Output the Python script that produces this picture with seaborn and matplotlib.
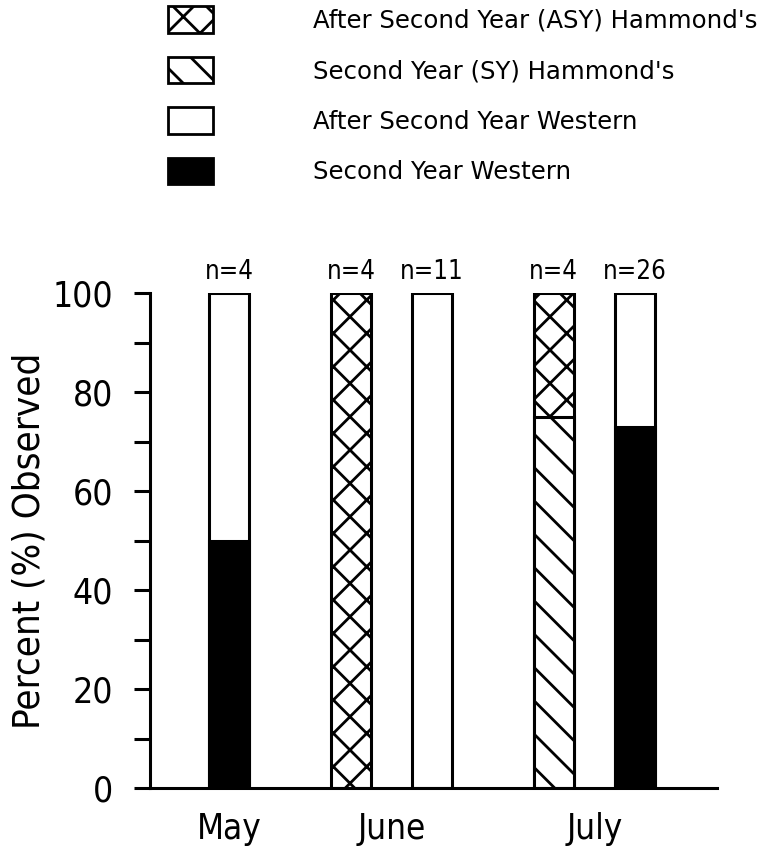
import pandas as pd
import matplotlib
matplotlib.use("Agg")
import matplotlib.pyplot as plt
from matplotlib import font_manager as fm
from matplotlib.patches import Patch
from matplotlib.ticker import MultipleLocator
import seaborn as sns

# observed birds, one bar per month and species
bar_month = ['May', 'June', 'June', 'July', 'July']
bar_species = ['Western', "Hammond's", 'Western', "Hammond's", 'Western']
sy_pct = [50, 0, 0, 75, 73]        # Second Year
asy_pct = [50, 100, 100, 25, 27]   # After Second Year
n_obs = [4, 4, 11, 4, 26]
months = ['May', 'June', 'July']
y_ticks = [0, 20, 40, 60, 80, 100]

legend_labels = ["After Second Year (ASY) Hammond's",
                 "Second Year (SY) Hammond's",
                 "After Second Year Western",
                 "Second Year Western"]

# layout: month centres on the x axis, species offsets inside a month
month_center = {'May': 0.0, 'June': 2.0, 'July': 4.5}
species_offset = {"Hammond's": -0.5, 'Western': 0.5}


def narrow_font():
    """Look for an installed condensed sans face, else None"""
    prefs = ['LiberationSansNarrow-Regular', 'DejaVuSansCondensed.',
             'RobotoCondensed-Regular', 'NotoSans-Condensed.',
             'NotoSans-SemiCondensed.', 'OpenSans-CondensedRegular',
             'OpenSans_Condensed-Regular']
    files = [f.fname for f in fm.fontManager.ttflist]
    for p in prefs:
        for fn in files:
            if p in fn.split('/')[-1]:
                return fn
    for f in fm.fontManager.ttflist:
        low = f.fname.lower()
        if ('condensed' in low or 'narrow' in low) and f.style == 'normal' \
                and f.weight in (400, 'normal', 'regular') \
                and 'extra' not in low and 'ultra' not in low:
            return f.fname
    return None


NARROW_FILE = narrow_font()


def nfont(size):
    if NARROW_FILE:
        return fm.FontProperties(fname=NARROW_FILE, size=size)
    return fm.FontProperties(family='DejaVu Sans', size=size * 0.85)


sns.set_theme(style='ticks', rc={
    'axes.edgecolor': 'black', 'text.color': 'black',
    'xtick.color': 'black', 'ytick.color': 'black',
    'axes.labelcolor': 'black', 'hatch.linewidth': 2.0,
    'hatch.color': 'black',
})
plt.rcParams['font.family'] = ['DejaVu Sans']

# bar positions
counts = pd.Series(bar_month).value_counts()
bar_x = []
for m, s in zip(bar_month, bar_species):
    off = species_offset[s] if counts[m] > 1 else 0.0
    bar_x.append(month_center[m] + off)

rows = []
for x, s, sy, asy in zip(bar_x, bar_species, sy_pct, asy_pct):
    if asy > 0:
        rows.append({'x': x, 'layer': f'ASY {s}', 'top': sy + asy})
    if sy > 0:
        rows.append({'x': x, 'layer': f'SY {s}', 'top': sy})
df = pd.DataFrame(rows)

hue_order = ["ASY Hammond's", 'ASY Western', "SY Hammond's", 'SY Western']
palette = {"ASY Hammond's": 'white', 'ASY Western': 'white',
           "SY Hammond's": 'white', 'SY Western': 'black'}
hatches = {"ASY Hammond's": 'x', 'ASY Western': '',
           "SY Hammond's": '\\', 'SY Western': ''}

fig = plt.figure(figsize=(7.62, 8.52), dpi=100)
ax = fig.add_axes([0.197, 0.075, 0.744, 0.581])

sns.barplot(data=df, x='x', y='top', hue='layer', hue_order=hue_order,
            palette=palette, dodge=False, native_scale=True, width=0.5,
            errorbar=None, saturation=1, edgecolor='black', linewidth=2.2,
            legend=False, ax=ax)

present = [h for h in hue_order if h in set(df['layer'])]
for cont, lev in zip(ax.containers, present):
    for p in cont:
        p.set_hatch(hatches[lev])

# sample sizes above bars
for x, n in zip(bar_x, n_obs):
    ax.text(x, 101.6, f'n={n}', ha='center', va='bottom',
            fontproperties=nfont(18.5))

ax.set_xlim(-0.973, 6.01)
ax.set_ylim(0, 100)
ax.set_xticks([month_center[m] for m in months], months,
              fontproperties=nfont(25))
ax.set_yticks(y_ticks, [str(t) for t in y_ticks], fontproperties=nfont(25.5))
ax.yaxis.set_minor_locator(MultipleLocator(10))
ax.tick_params(axis='y', which='both', length=11.5, width=2.2, pad=15)
ax.tick_params(axis='x', length=0, pad=17)
ax.set_xlabel('')
ax.set_ylabel('Percent (%) Observed', fontproperties=nfont(27.5),
              labelpad=4)
sns.despine(ax=ax)
for sp in ['left', 'bottom']:
    ax.spines[sp].set_linewidth(2.2)

handles = [
    Patch(facecolor='white', edgecolor='black', hatch='x', linewidth=2),
    Patch(facecolor='white', edgecolor='black', hatch='\\', linewidth=2),
    Patch(facecolor='white', edgecolor='black', linewidth=2),
    Patch(facecolor='black', edgecolor='black', linewidth=2),
]
fig.legend(handles, legend_labels, loc='upper left',
           bbox_to_anchor=(168 / 762, 1 - 6 / 852), frameon=False,
           borderpad=0, borderaxespad=0, handlelength=1.85, handleheight=1.3,
           handletextpad=4.1, labelspacing=0.98,
           prop={'family': ['DejaVu Sans'], 'size': 17.6})

fig.savefig('out.png', dpi=100)
